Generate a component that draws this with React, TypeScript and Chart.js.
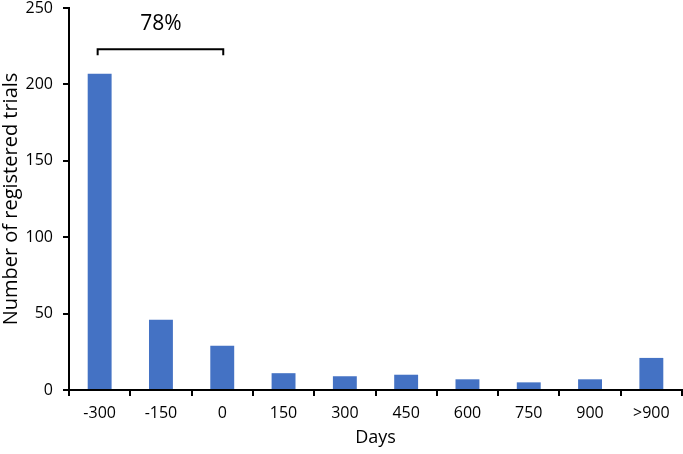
import React, { useEffect, useRef } from "react";
import { Chart, registerables } from "chart.js";

Chart.register(...registerables);

const categories = ["-300", "-150", "0", "150", "300", "450", "600", "750", "900", ">900"];
const trialCounts = [207, 46, 29, 11, 9, 10, 7, 5, 7, 21];
const yTicks = [0, 50, 100, 150, 200, 250];
const bracketLabel = "78%";
const bracketFromIndex = 0;
const bracketToIndex = 2;

const FONT = "'Open Sans', Lato, sans-serif";

const bracketPlugin = {
  id: "bracket",
  afterDatasetsDraw(chart: any) {
    const { ctx, scales } = chart;
    const xs = scales.x;
    const ys = scales.y;
    const x0 = xs.getPixelForValue(bracketFromIndex);
    const x1 = xs.getPixelForValue(bracketToIndex);
    const yLine = ys.getPixelForValue(223);
    const yEnd = ys.getPixelForValue(219);
    const yText = ys.getPixelForValue(239.5);
    ctx.save();
    ctx.strokeStyle = "#000";
    ctx.lineWidth = 2;
    ctx.beginPath();
    ctx.moveTo(x0 - 2, yEnd);
    ctx.lineTo(x0 - 2, yLine);
    ctx.lineTo(x1 + 1, yLine);
    ctx.lineTo(x1 + 1, yEnd);
    ctx.stroke();
    ctx.fillStyle = "#000";
    ctx.font = `21px ${FONT}`;
    ctx.textAlign = "center";
    ctx.textBaseline = "middle";
    ctx.fillText(bracketLabel, (x0 + x1) / 2, yText);
    ctx.restore();
  },
};

export default function App() {
  const ref = useRef<HTMLCanvasElement>(null);
  useEffect(() => {
    if (!ref.current) return;
    const chart = new Chart(ref.current, {
      type: "bar",
      data: {
        labels: categories,
        datasets: [
          {
            data: trialCounts,
            backgroundColor: "#4472C4",
            borderWidth: 0,
            categoryPercentage: 1,
            barPercentage: 0.39,
          },
        ],
      },
      options: {
        responsive: false,
        animation: false,
        layout: { padding: { top: 8, right: 1, left: 0, bottom: 0 } },
        plugins: { legend: { display: false }, tooltip: { enabled: false } },
        scales: {
          x: {
            offset: true,
            afterFit(scale: any) {
              scale.height = 64;
            },
            grid: {
              display: true,
              drawOnChartArea: false,
              offset: true,
              tickLength: 6,
              tickColor: "#000",
              lineWidth: 2,
            },
            border: { color: "#000", width: 2 },
            ticks: { color: "#000", font: { family: FONT, size: 16 }, padding: 8, maxRotation: 0 },
            title: {
              display: true,
              text: "Days",
              color: "#000",
              font: { family: FONT, size: 18 },
              padding: { top: 2, bottom: 5 },
            },
          },
          y: {
            min: 0,
            max: 250,
            afterFit(scale: any) {
              scale.width = 69;
              scale.paddingTop = 0;
              scale.paddingBottom = 0;
            },
            afterBuildTicks(scale: any) {
              scale.ticks = yTicks.map((v) => ({ value: v }));
            },
            grid: {
              display: true,
              drawOnChartArea: false,
              tickLength: 6,
              tickColor: "#000",
              lineWidth: 2,
            },
            border: { color: "#000", width: 2 },
            ticks: { color: "#000", font: { family: FONT, size: 16 }, padding: 10 },
            title: {
              display: true,
              text: "Number of registered trials",
              color: "#000",
              font: { family: FONT, size: 20 },
              padding: { top: -1, bottom: 0 },
            },
          },
        },
      },
      plugins: [bracketPlugin],
    });
    return () => chart.destroy();
  }, []);
  return (
    <div style={{ position: "fixed", left: 0, top: 0, width: 683, height: 454, background: "#fff" }}>
      <canvas ref={ref} width={683} height={454} />
    </div>
  );
}
